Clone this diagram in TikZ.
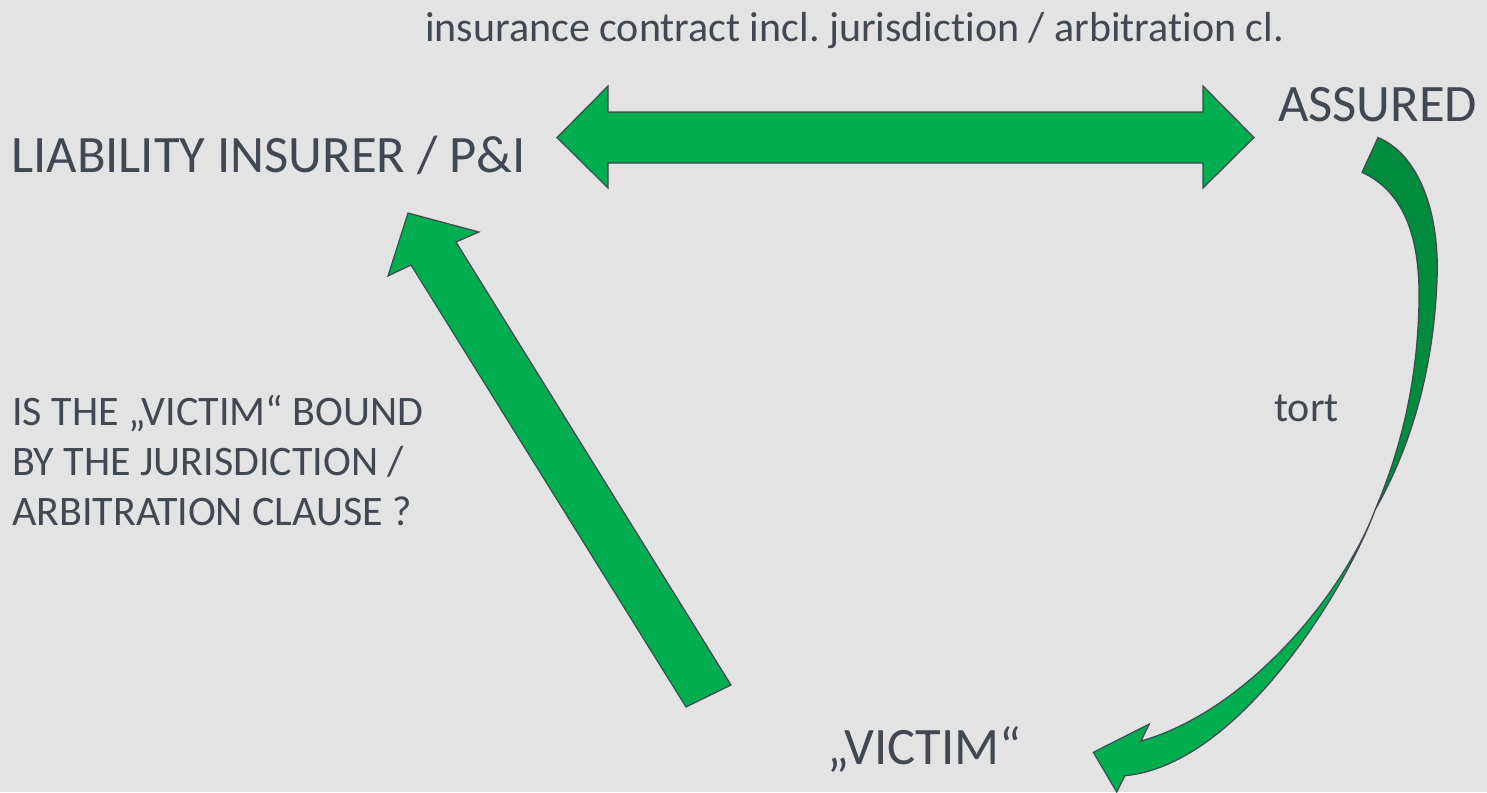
\documentclass[tikz,border=0pt]{standalone}
\usepackage{fontspec}
\setmainfont{Carlito}[Ligatures={NoCommon}]
\frenchspacing
\definecolor{bg}{HTML}{E3E3E3}
\definecolor{arrowgreen}{HTML}{00AE50}
\definecolor{arrowdark}{HTML}{008C3C}
\definecolor{edge}{HTML}{404852}
\definecolor{ink}{HTML}{424852}
\begin{document}
\begin{tikzpicture}[x=1pt,y=-1pt,
  blockarrow/.style={fill=arrowgreen,draw=edge,line width=1.2pt,line join=miter},
  backface/.style={fill=arrowdark,draw=edge,line width=1.2pt,line join=miter},
  label/.style={text=ink,inner sep=0pt,anchor=base west},
  big/.style={label,font=\fontsize{52.6}{60}\selectfont},
  small/.style={label,font=\fontsize{42}{50}\selectfont}]
  % canvas
  \fill[bg] (0,0) rectangle (1487,792);
  \useasboundingbox (0,0) rectangle (1487,792);

  % parties
  \node[big] (insurer) at (11,172.7) {LIABILITY INSURER / P\&I};
  \node[big] (assured) at (1278,121) {ASSURED};
  \node[big] (victim)  at (827,764.3) {„VICTIM“};

  % relation labels
  \node[small] (contract) at (425,41.7) {insurance contract incl. jurisdiction / arbitration cl.};
  \node[small] (tort) at (1274,421.7) {tort};
  \node[small] (q1) at (12,425) {IS THE „VICTIM“ BOUND};
  \node[small] (q2) at (12,475) {BY THE JURISDICTION /};
  \node[small] (q3) at (12,525) {ARBITRATION CLAUSE ?};

  % two-headed arrow: insurer <-> assured
  \draw[blockarrow] (557,137.5) -- (608,86) -- (608,112) -- (1203,112) -- (1203,86)
    -- (1254,137.5) -- (1203,188) -- (1203,163) -- (608,163) -- (608,188) -- cycle;

  % straight arrow: victim -> insurer
  \draw[blockarrow] (408,213) -- (479,232) -- (456,242) -- (731,685) -- (686,707)
    -- (411,265) -- (388,276) -- cycle;

  % curved arrow: assured -> victim (twisted band, back face on top)
  \coordinate (twist) at (1375,510);
  \draw[backface] (1378,137.5) .. controls (1420,155) and (1440,215) .. (1437,280)
    .. controls (1434,360) and (1415,440) .. (twist)
    .. controls (1405,440) and (1418,370) .. (1419,300)
    .. controls (1420,230) and (1400,190) .. (1362,172.3) -- cycle;
  \draw[blockarrow] (twist) .. controls (1345,590) and (1250,710) .. (1141,741)
    -- (1149.3,724) -- (1093.3,752.3) -- (1116.7,792) -- (1125,775.7)
    .. controls (1240,765) and (1348,585) .. (twist) -- cycle;
\end{tikzpicture}
\end{document}
